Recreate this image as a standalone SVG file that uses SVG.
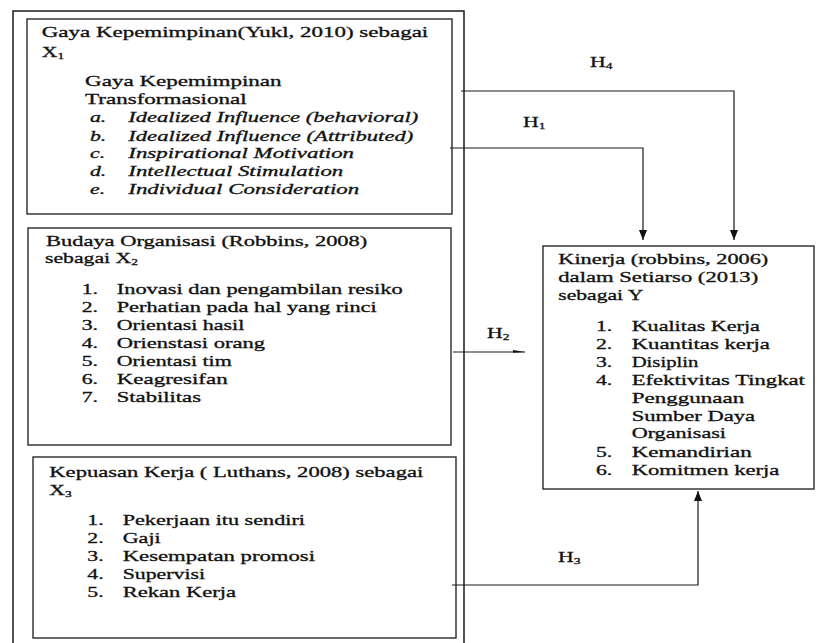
<svg xmlns="http://www.w3.org/2000/svg" width="817" height="643" viewBox="0 0 817 643">
<style>
text{font-family:"Liberation Serif","Times New Roman",serif;font-size:14.5px;fill:#111;stroke:#111;stroke-width:0.3}
.i{font-style:italic}
.sub{font-size:9px}
.box{fill:none;stroke:#2a2a2a;stroke-width:1.4}
.outer{fill:none;stroke:#1a1a1a;stroke-width:1.5}
.con{fill:none;stroke:#1a1a1a;stroke-width:1.2}
</style>
<defs>
<marker id="ah" markerUnits="userSpaceOnUse" markerWidth="10" markerHeight="8" viewBox="0 0 10 8" refX="10" refY="4" orient="auto">
<path d="M0,0 L10,4 L0,8 Z" fill="#111"/>
</marker>
<marker id="ah2" markerUnits="userSpaceOnUse" markerWidth="12" markerHeight="5" viewBox="0 0 12 5" refX="12" refY="2.5" orient="auto">
<path d="M0,0.5 L12,2.5 L0,3.2 Z" fill="#111"/>
</marker>
</defs>

<g id="outer-frame">
<path class="outer" d="M13,643 L13,11 L464,11 L464,643"/>
</g>

<g id="node-x1">
<rect class="box" x="27" y="19" width="425" height="195"/>
<g transform="scale(1.5 1)">
<text x="27.8" y="37" textLength="257.7" lengthAdjust="spacingAndGlyphs">Gaya Kepemimpinan(Yukl, 2010) sebagai</text>
<text x="27.8" y="57">X<tspan class="sub" dy="2">1</tspan></text>
<text x="56.67" y="86" textLength="131.1" lengthAdjust="spacingAndGlyphs">Gaya Kepemimpinan</text>
<text x="56.67" y="104" textLength="107.8" lengthAdjust="spacingAndGlyphs">Transformasional</text>
<text class="i" x="60" y="122.3">a.</text>
<text class="i" x="85.53" y="122.3" textLength="193.3" lengthAdjust="spacingAndGlyphs">Idealized Influence (behavioral)</text>
<text class="i" x="60" y="140.7">b.</text>
<text class="i" x="85.53" y="140.7" textLength="190" lengthAdjust="spacingAndGlyphs">Idealized Influence (Attributed)</text>
<text class="i" x="60" y="158.3">c.</text>
<text class="i" x="85.53" y="158.3" textLength="150.5" lengthAdjust="spacingAndGlyphs">Inspirational Motivation</text>
<text class="i" x="60" y="176">d.</text>
<text class="i" x="85.53" y="176" textLength="143.3" lengthAdjust="spacingAndGlyphs">Intellectual Stimulation</text>
<text class="i" x="60" y="194">e.</text>
<text class="i" x="85.53" y="194" textLength="154" lengthAdjust="spacingAndGlyphs">Individual Consideration</text>
</g>
</g>

<g id="node-x2">
<rect class="box" x="28" y="228" width="423" height="217"/>
<g transform="scale(1.5 1)">
<text x="30.67" y="245.7" textLength="214.2" lengthAdjust="spacingAndGlyphs">Budaya Organisasi (Robbins, 2008)</text>
<text x="30" y="263.3">sebagai X<tspan class="sub" dy="2">2</tspan></text>
<text x="54.47" y="294.3">1.</text>
<text x="77.8" y="294.3" textLength="190.7" lengthAdjust="spacingAndGlyphs">Inovasi dan pengambilan resiko</text>
<text x="54.47" y="311.7">2.</text>
<text x="77.8" y="311.7" textLength="173.3" lengthAdjust="spacingAndGlyphs">Perhatian pada hal yang rinci</text>
<text x="54.47" y="330">3.</text>
<text x="77.8" y="330" textLength="85.1" lengthAdjust="spacingAndGlyphs">Orientasi hasil</text>
<text x="54.47" y="348.3">4.</text>
<text x="77.8" y="348.3" textLength="98.9" lengthAdjust="spacingAndGlyphs">Orienstasi orang</text>
<text x="54.47" y="366">5.</text>
<text x="77.8" y="366" textLength="76.7" lengthAdjust="spacingAndGlyphs">Orientasi tim</text>
<text x="54.47" y="384.3">6.</text>
<text x="77.8" y="384.3" textLength="74" lengthAdjust="spacingAndGlyphs">Keagresifan</text>
<text x="54.47" y="402.3">7.</text>
<text x="77.8" y="402.3" textLength="56.2" lengthAdjust="spacingAndGlyphs">Stabilitas</text>
</g>
</g>

<g id="node-x3">
<rect class="box" x="33" y="457" width="423" height="181"/>
<g transform="scale(1.5 1)">
<text x="32.87" y="476.7" textLength="249.3" lengthAdjust="spacingAndGlyphs">Kepuasan Kerja ( Luthans, 2008) sebagai</text>
<text x="32.87" y="495">X<tspan class="sub" dy="2">3</tspan></text>
<text x="58.2" y="525">1.</text>
<text x="81.8" y="525" textLength="121.5" lengthAdjust="spacingAndGlyphs">Pekerjaan itu sendiri</text>
<text x="58.2" y="542.7">2.</text>
<text x="81.8" y="542.7" textLength="25.3" lengthAdjust="spacingAndGlyphs">Gaji</text>
<text x="58.2" y="561">3.</text>
<text x="81.8" y="561" textLength="128.2" lengthAdjust="spacingAndGlyphs">Kesempatan promosi</text>
<text x="58.2" y="579">4.</text>
<text x="81.8" y="579" textLength="54.9" lengthAdjust="spacingAndGlyphs">Supervisi</text>
<text x="58.2" y="597.3">5.</text>
<text x="81.8" y="597.3" textLength="75.5" lengthAdjust="spacingAndGlyphs">Rekan Kerja</text>
</g>
</g>

<g id="node-y">
<rect class="box" x="543" y="246" width="271" height="243"/>
<g transform="scale(1.5 1)">
<text x="372.2" y="264.3" textLength="140" lengthAdjust="spacingAndGlyphs">Kinerja (robbins, 2006)</text>
<text x="372.2" y="281.7" textLength="133.3" lengthAdjust="spacingAndGlyphs">dalam Setiarso (2013)</text>
<text x="372.2" y="300" textLength="56.67" lengthAdjust="spacingAndGlyphs">sebagai Y</text>
<text x="397.3" y="330.7">1.</text>
<text x="421.1" y="330.7" textLength="85.5" lengthAdjust="spacingAndGlyphs">Kualitas Kerja</text>
<text x="397.3" y="349">2.</text>
<text x="421.1" y="349" textLength="92.2" lengthAdjust="spacingAndGlyphs">Kuantitas kerja</text>
<text x="397.3" y="366.7">3.</text>
<text x="421.1" y="366.7" textLength="44.5" lengthAdjust="spacingAndGlyphs">Disiplin</text>
<text x="397.3" y="385">4.</text>
<text x="421.1" y="385" textLength="115.5" lengthAdjust="spacingAndGlyphs">Efektivitas Tingkat</text>
<text x="421.1" y="402.7" textLength="75.1" lengthAdjust="spacingAndGlyphs">Penggunaan</text>
<text x="421.1" y="420.7" textLength="82.2" lengthAdjust="spacingAndGlyphs">Sumber Daya</text>
<text x="421.1" y="438.3" textLength="62.9" lengthAdjust="spacingAndGlyphs">Organisasi</text>
<text x="397.3" y="456.7">5.</text>
<text x="421.1" y="456.7" textLength="80" lengthAdjust="spacingAndGlyphs">Kemandirian</text>
<text x="397.3" y="475">6.</text>
<text x="421.1" y="475" textLength="98.5" lengthAdjust="spacingAndGlyphs">Komitmen kerja</text>
</g>
</g>

<g id="connectors">
<path class="con" d="M461,91 L734,91 L734,240" marker-end="url(#ah)"/>
<path class="con" d="M450,148 L643,148 L643,240" marker-end="url(#ah)"/>
<path class="con" d="M453,352 L525,352" marker-end="url(#ah2)"/>
<path class="con" d="M452,585 L698,585 L698,491" marker-end="url(#ah)"/>
<g transform="scale(1.5 1)">
<text x="393.3" y="67">H<tspan class="sub" dy="2">4</tspan></text>
<text x="348.7" y="127">H<tspan class="sub" dy="2">1</tspan></text>
<text x="324.7" y="338">H<tspan class="sub" dy="2">2</tspan></text>
<text x="372" y="562">H<tspan class="sub" dy="2">3</tspan></text>
</g>
</g>
</svg>
